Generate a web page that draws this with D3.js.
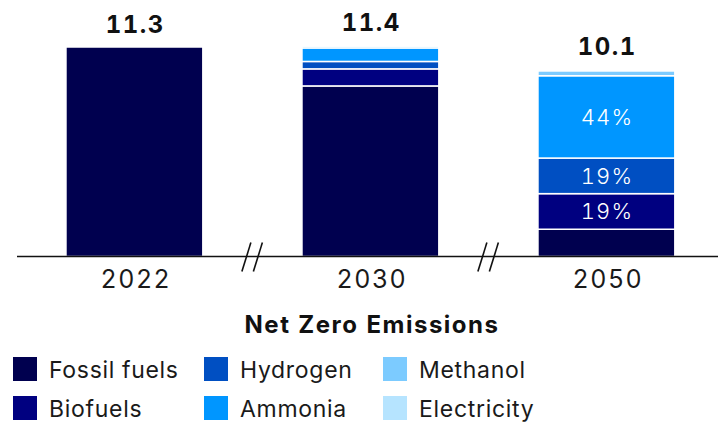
<!DOCTYPE html>
<html>
<head>
<meta charset="utf-8">
<script src="https://cdn.jsdelivr.net/npm/d3@7"></script>
<style>
  html, body { margin: 0; padding: 0; background: #fff; }
  svg { display: block; font-family: Inter, "Noto Sans", sans-serif; font-variant-numeric: tabular-nums; }
</style>
</head>
<body>
<svg id="chart" width="718" height="427"></svg>
<script>
// Fuel mix by year (energy use, stacked bottom to top)
const years = ["2022", "2030", "2050"];
const fuels = ["Fossil fuels", "Biofuels", "Hydrogen", "Ammonia", "Methanol", "Electricity"];
const fossil      = [11.3, 9.2, 1.47];
const biofuels    = [0,    0.92, 1.92];
const hydrogen    = [0,    0.40, 1.92];
const ammonia     = [0,    0.73, 4.44];
const methanol    = [0,    0.10, 0.27];
const electricity = [0,    0.05, 0.08];
const totals      = [11.3, 11.4, 10.1];
const shareLabels = [
  { year: "2050", fuel: "Biofuels", text: "19%" },
  { year: "2050", fuel: "Hydrogen", text: "19%" },
  { year: "2050", fuel: "Ammonia",  text: "44%" }
];
const title = "Net Zero Emissions";
const colors = ["#00004f", "#000080", "#004fc2", "#0096ff", "#7ccbff", "#b6e4ff"];

const series = [fossil, biofuels, hydrogen, ammonia, methanol, electricity];
const table = years.map((y, i) => {
  const row = { year: y };
  fuels.forEach((f, k) => { row[f] = series[k][i]; });
  return row;
});

const svg = d3.select("#chart");
const baseY = 256.5;

const x = d3.scaleBand().domain(years).range([16.4, 724.4])
  .paddingInner(0.42).paddingOuter(0.21);
const y = d3.scaleLinear().domain([0, 11.3]).range([baseY, 47]);
const color = d3.scaleOrdinal().domain(fuels).range(colors);

const stacked = d3.stack().keys(fuels)(table);

// stacked segments
svg.append("g").selectAll("g").data(stacked).join("g")
  .attr("fill", d => color(d.key))
  .selectAll("rect").data(d => d.filter(p => p[1] - p[0] > 0)).join("rect")
  .attr("x", d => x(d.data.year))
  .attr("width", x.bandwidth())
  .attr("y", d => y(d[1]))
  .attr("height", d => y(d[0]) - y(d[1]))
  .attr("stroke", "#fff")
  .attr("stroke-width", 1.5);

// share labels inside segments
svg.append("g").selectAll("text").data(shareLabels).join("text")
  .attr("x", d => x(d.year) + x.bandwidth() / 2 + 0.6)
  .attr("y", d => {
    const layer = stacked.find(s => s.key === d.fuel);
    const p = layer[years.indexOf(d.year)];
    return (y(p[0]) + y(p[1])) / 2;
  })
  .attr("dy", "0.36em")
  .attr("text-anchor", "middle")
  .attr("fill", "#fff")
  .attr("font-size", 22)
  .attr("font-weight", 300)
  .attr("letter-spacing", 1.2)
  .text(d => d.text);

// totals above bars
svg.append("g").selectAll("text").data(years).join("text")
  .attr("x", d => x(d) + x.bandwidth() / 2 + 0.8)
  .attr("y", (d, i) => y(totals[i]) - 14.5)
  .attr("text-anchor", "middle")
  .attr("font-size", 24)
  .attr("font-weight", 700)
  .attr("letter-spacing", 1.5)
  .attr("fill", "#111")
  .text((d, i) => totals[i].toFixed(1));

// baseline axis with year labels
const axis = svg.append("g").attr("transform", `translate(0,${baseY})`)
  .call(d3.axisBottom(x).tickSize(0).tickPadding(14));
axis.select(".domain").attr("d", "M17,0H718").attr("stroke", "#111").attr("stroke-width", 1.4);
axis.selectAll(".tick text").attr("font-size", 25).attr("fill", "#1a1a1a")
  .attr("letter-spacing", 1.5).attr("dx", "0.06em")
  .attr("font-family", "Inter, 'Noto Sans', sans-serif");

// axis break marks between bars
const breaks = [0, 1].map(i => (x(years[i]) + x.bandwidth() + x(years[i + 1])) / 2);
const brk = svg.append("g");
breaks.forEach(cx => {
  [-6, 5.5].forEach(off => {
    brk.append("line")
      .attr("x1", cx + off - 4.5).attr("y1", baseY + 15)
      .attr("x2", cx + off + 4.5).attr("y2", baseY - 14)
      .attr("stroke", "#111").attr("stroke-width", 1.6);
  });
});

// title
svg.append("text")
  .attr("x", 372).attr("y", 333)
  .attr("text-anchor", "middle")
  .attr("font-size", 24).attr("font-weight", 700).attr("fill", "#111")
  .attr("letter-spacing", 1.5)
  .text(title);

// legend: three columns, two rows
const legX = [13, 204, 383];
const legY = [357, 396];
const legend = svg.append("g").selectAll("g").data(fuels).join("g")
  .attr("transform", (d, i) => `translate(${legX[Math.floor(i / 2)]},${legY[i % 2]})`);
legend.append("rect").attr("width", 24).attr("height", 24).attr("fill", d => color(d));
legend.append("text").attr("x", 36).attr("y", 12.5).attr("dy", "0.36em")
  .attr("font-size", 23).attr("letter-spacing", 0.7)
  .attr("fill", "#1a1a1a").text(d => d);
</script>
</body>
</html>
